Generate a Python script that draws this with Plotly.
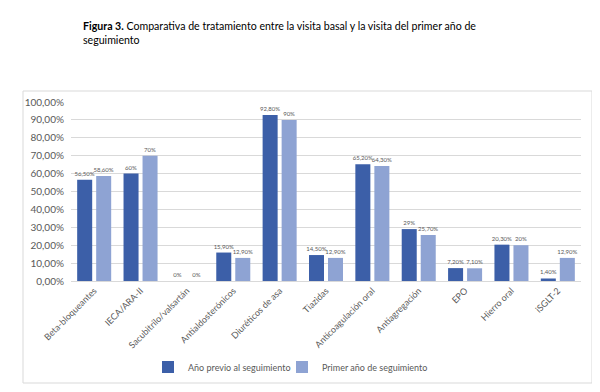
import plotly.graph_objects as go

categories = ["Beta-bloqueantes", "IECA/ARA-II", "Sacubitrilo/valsartán", "Antialdosterónicos",
              "Diuréticos de asa", "Tiazidas", "Anticoagulación oral", "Antiagregación",
              "EPO", "Hierro oral", "iSGLT-2"]
previo = [56.5, 60, 0, 15.9, 92.8, 14.5, 65.2, 29, 7.2, 20.3, 1.4]
primer = [58.6, 70, 0, 12.9, 90, 12.9, 64.3, 25.7, 7.1, 20, 12.9]
series_names = ["Año previo al seguimiento", "Primer año de seguimiento"]
colors = ["#3C5FA8", "#8EA3D3"]

def fmt(v):
    if abs(v - round(v)) < 1e-9:
        return f"{int(round(v))}%"
    return f"{v:.2f}".replace(".", ",") + "%"

FONT = "Lato"
fig = go.Figure()
for i, (name, vals, col) in enumerate(zip(series_names, [previo, primer], colors)):
    fig.add_trace(go.Bar(
        x=categories, y=[v / 100 for v in vals], name=name,
        marker=dict(color=col, line=dict(width=0)),
        text=[fmt(v) for v in vals], textposition="outside",
        textfont=dict(size=6, color="#595959", family=FONT),
        constraintext="none",
        cliponaxis=False,
        showlegend=True,
        legend="legend" if i == 0 else "legend2",
    ))

L, R, T, B = 63, 27, 94, 119
pw, ph = 600 - L - R, 392 - T - B

def px(x):
    return (x - L) / pw

def py(y):
    return (392 - B - y) / ph

leg_common = dict(orientation="h", xanchor="left", y=py(359), yanchor="middle",
                  font=dict(size=9, color="#595959"), itemwidth=30,
                  bgcolor="rgba(0,0,0,0)")

fig.update_layout(
    width=600, height=392,
    showlegend=True,
    margin=dict(l=L, r=R, t=T, b=B, pad=0),
    paper_bgcolor="white", plot_bgcolor="white",
    separators=",.",
    barmode="group", bargap=0.18, bargroupgap=0.21,
    font=dict(family=FONT, color="#595959"),
    title=dict(
        text="<b>Figura 3.</b> Comparativa de tratamiento entre la visita basal y la visita del primer año de<br>seguimiento",
        x=75 / 600, xanchor="left", xref="container",
        y=1 - 22 / 392, yanchor="top", yref="container",
        font=dict(family=FONT, size=10.6, color="#000000"),
    ),
    yaxis=dict(range=[0, 1.0], dtick=0.1, tickformat=".2%",
               gridcolor="#D9D9D9", gridwidth=1, zeroline=False,
               showline=False, ticks="", tickfont=dict(size=10, color="#595959"),
               ticklabelstandoff=6),
    xaxis=dict(tickangle=-45, showline=True, linecolor="#D9D9D9", linewidth=1,
               ticks="", tickfont=dict(size=9, color="#595959"), showgrid=False),
    legend=dict(x=px(140), **leg_common),
    legend2=dict(x=px(274), **leg_common),
    shapes=[dict(type="rect", xref="paper", yref="paper",
                 x0=px(15), x1=px(584), y0=py(375), y1=py(83),
                 line=dict(color="#D9D9D9", width=1), fillcolor="rgba(0,0,0,0)", layer="below")],
)

fig.write_html("out.html")
